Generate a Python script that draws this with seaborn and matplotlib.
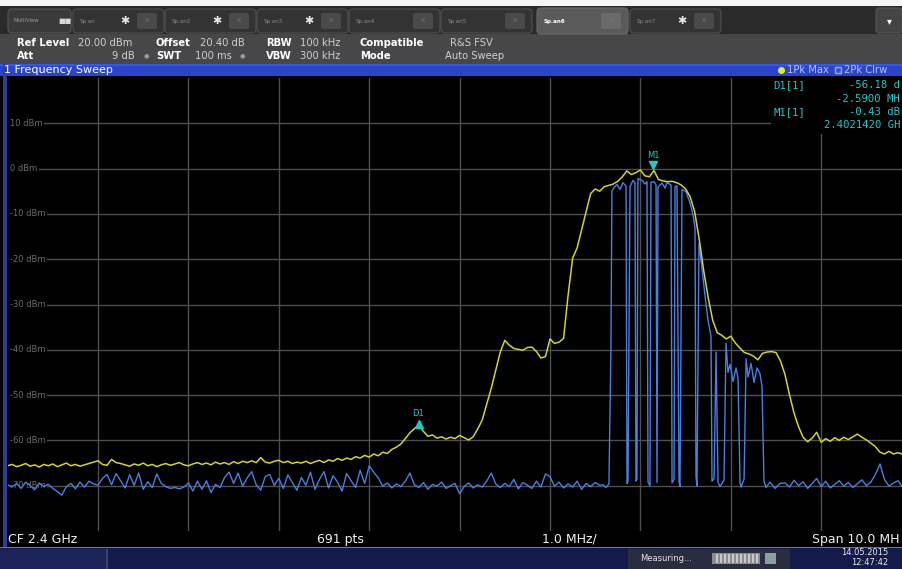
import numpy as np
import pandas as pd
import matplotlib
matplotlib.use("Agg")
import matplotlib.pyplot as plt
from matplotlib.patches import Rectangle, FancyBboxPatch
from matplotlib.lines import Line2D
from matplotlib.transforms import Affine2D
import seaborn as sns

# ---------------- data ----------------
center_label = "CF 2.4 GHz"
span_label = "Span 10.0 MH"       # cut at the right edge of the screenshot
points_label = "691 pts"
div_label = "1.0 MHz/"
grid_step_mhz = 0.05          # sampling of the values below (offset from CF, MHz)

# Trace 1: 1Pk Max (yellow), from -5 MHz to +5 MHz
trace1_max_dbm = [
    -65.6, -65.3, -65.8, -65.5, -65.1, -65.7, -65.4, -65.9, -65.3, -65.6,
    -65.2, -65.8, -65.4, -65.0, -65.6, -65.3, -65.7, -65.4, -65.1, -64.8,
    -64.5, -65.3, -65.5, -64.2, -64.9, -65.1, -65.4, -65.7, -65.2, -65.5,
    -65.0, -65.6, -65.3, -65.8, -65.4, -65.1, -65.5, -65.2, -64.9, -65.4,
    -65.6, -65.2, -64.9, -65.3, -65.0, -65.4, -64.8, -65.2, -64.9, -65.3,
    -64.7, -65.1, -64.6, -64.9, -64.5, -64.9, -63.8, -64.8, -65.0, -64.6,
    -64.4, -64.9, -64.6, -65.1, -64.8,
    -65.0, -64.6, -65.1, -64.7, -64.4, -64.9, -64.3, -64.6, -64.0, -64.4,
    -63.9, -64.2, -63.6, -63.9, -63.3, -63.7, -63.0, -63.4, -62.6, -62.9,
    -62.0, -61.5, -60.8, -59.6, -58.3, -57.4, -56.6, -58.0, -59.1, -58.8,
    -59.5, -59.2, -59.7, -59.3, -59.6, -58.9, -59.4, -59.9, -59.2, -57.5,
    -55.5, -52.0, -48.5, -44.5, -40.5, -37.9, -39.0, -39.7, -39.9, -40.1,
    -39.5, -39.4, -40.4, -41.8, -41.5, -37.6, -38.6, -38.3, -37.5, -28.0,
    -19.8, -17.5, -13.5, -9.5, -5.5, -4.5, -5.0, -4.0, -3.7, -3.4,
    -2.8, -1.8, -0.5, -1.3, -0.9, -0.3, -1.6, -1.8, -0.43, -2.4,
    -2.7, -2.9, -2.8, -3.1, -3.6, -4.5, -6.2, -9.5, -15.5, -22.5,
    -28.5, -33.5, -36.2, -36.8, -37.6, -37.0, -38.5, -39.6, -40.6, -40.9,
    -41.4, -42.2, -40.8, -40.5, -40.4, -40.6, -42.5, -45.5, -50.0, -54.0,
    -57.0, -59.3, -60.3, -59.5, -58.2, -60.4, -59.6, -60.2, -59.4, -60.0,
    -59.3, -59.8, -59.2, -58.6, -59.3, -59.9, -60.6, -61.4, -62.6, -63.0,
    -62.4, -63.0, -62.7, -63.1, -63.4, -63.0,
]

# Trace 2: 2Pk Clrw (blue) - noise floor left of the bursts, from -5 MHz
trace2_left_dbm = [
    -69.8, -70.3, -69.5, -70.6, -69.2, -70.0, -70.9, -69.4, -70.2, -69.7,
    -70.6, -71.3, -72.1, -70.2, -69.5, -70.7, -69.2, -70.3, -69.0, -69.6,
    -69.9, -68.4, -67.5, -69.8, -67.3, -68.9, -70.5, -67.6, -69.9, -67.2,
    -70.8, -69.1, -70.4, -67.4, -69.5, -70.2, -70.6, -70.4, -70.7, -70.3,
    -69.4, -71.2, -69.0, -70.8, -68.9, -71.5, -69.7, -70.4, -68.2, -67.0,
    -69.5, -67.2, -70.1, -68.3, -66.9, -69.8, -71.0, -68.0, -67.5, -69.9,
    -68.4, -70.6, -67.6, -69.3, -71.0, -68.2, -69.9, -67.0, -70.8, -68.6,
    -66.9, -70.5, -67.8, -69.2, -71.2, -67.3, -68.9, -70.4, -66.6, -69.5,
    -65.6, -67.0, -68.3, -70.1, -69.4, -70.5, -69.6, -70.2, -69.0, -67.2,
    -69.8, -70.4, -69.3, -70.8, -69.7, -70.1, -69.2, -70.6, -70.0, -69.5,
    -71.8, -70.2, -69.4, -70.5, -69.8, -70.3, -69.0, -67.2, -69.6, -70.4,
    -69.5, -70.2, -68.6, -70.7, -69.3, -69.9, -70.6, -69.0, -70.3, -67.4,
    -68.0, -70.1, -69.2, -70.5, -69.6, -70.3, -69.0, -70.8, -69.5, -70.2,
    -69.3, -69.9,
]

# Trace 2: burst region (explicit frequency offsets, MHz)
trace2_burst_mhz = [
    1.586, 1.619, 1.652, 1.674, 1.685, 1.708, 1.741, 1.774, 1.807, 1.841,
    1.852, 1.863, 1.885, 1.918, 1.940, 1.951, 1.962, 1.973, 2.018, 2.051,
    2.073, 2.084, 2.106, 2.117, 2.151, 2.173, 2.184, 2.195, 2.239, 2.273,
    2.295, 2.339, 2.350, 2.372, 2.383, 2.405, 2.427, 2.438, 2.460, 2.505,
    2.549, 2.582, 2.604, 2.615, 2.626, 2.648, 2.681, 2.714, 2.748, 2.781,
    2.792, 2.815, 2.837, 2.859, 2.881, 2.925, 2.947, 2.969, 2.992, 3.025,
    3.058, 3.080, 3.102, 3.113, 3.147, 3.169, 3.191, 3.224, 3.257, 3.290,
    3.323, 3.345, 3.367, 3.389, 3.434, 3.489, 3.545,
]
trace2_burst_dbm = [
    -69.8, -70.4, -69.6, -40.0, -5.0, -4.2, -3.5, -4.6, -3.1, -3.9,
    -69.5, -69.0, -4.0, -2.6, -3.1, -69.0, -68.5, -2.2, -2.6, -3.4,
    -2.9, -69.2, -70.0, -3.0, -2.9, -3.6, -69.3, -4.1, -3.2, -4.3,
    -3.1, -3.6, -69.4, -68.6, -4.0, -3.8, -69.1, -70.2, -4.6, -5.1,
    -7.6, -10.2, -13.0, -68.0, -70.1, -16.5, -22.0, -28.0, -33.5, -37.0,
    -69.0, -68.4, -40.5, -69.3, -70.2, -68.7, -38.5, -45.0, -43.2, -47.0,
    -44.0, -46.2, -69.2, -70.3, -68.5, -42.0, -46.0, -43.0, -47.2, -44.0,
    -45.3, -48.0, -69.0, -70.4, -69.2, -70.6, -69.5,
]

# Trace 2: noise floor right of the bursts, from +3.6 MHz
trace2_right_dbm = [
    -69.4, -70.3, -68.8, -70.0, -69.1, -70.6, -69.5, -68.4, -70.2, -69.0,
    -70.5, -69.7, -68.9, -70.1, -69.3, -70.4, -69.6, -68.7, -70.0, -69.2,
    -67.5, -65.2, -68.6, -70.1, -69.4, -68.9, -70.3, -69.6, -70.0,
]

y_ticks = [10, 0, -10, -20, -30, -40, -50, -60, -70]
y_tick_labels = ["10 dBm", "0 dBm", "-10 dBm", "-20 dBm", "-30 dBm",
                 "-40 dBm", "-50 dBm", "-60 dBm", "-70 dBm"]
x_ticks = [-4, -3, -2, -1, 0, 1, 2, 3, 4]

m1_mhz, m1_dbm = 2.142, -0.43
d1_mhz, d1_dbm = -0.448, -56.61
# marker table as visible (cut at the right edge of the screenshot)
marker_info = [("D1[1]", "-56.18 d"), ("", "-2.5900 MH"),
               ("M1[1]", "-0.43 dB"), ("", "2.4021420 GH")]

tab_names = ["Sp.an", "Sp.an2", "Sp.an3", "Sp.an4", "Sp.an5", "Sp.an6", "Sp.an7"]

# ---------------- build data frames ----------------
f1 = -5.0 + grid_step_mhz * np.arange(len(trace1_max_dbm))
df1 = pd.DataFrame({"freq": f1, "level": trace1_max_dbm})
fl = -5.0 + grid_step_mhz * np.arange(len(trace2_left_dbm))
fr = 3.6 + grid_step_mhz * np.arange(len(trace2_right_dbm))
df2 = pd.DataFrame({
    "freq": np.concatenate([fl, trace2_burst_mhz, fr]),
    "level": np.concatenate([trace2_left_dbm, trace2_burst_dbm, trace2_right_dbm]),
})

# ---------------- figure ----------------
sns.set_theme(style="dark")
plt.rcParams["font.family"] = ["DejaVu Sans"]

W, H = 902, 569
fig = plt.figure(figsize=(W / 100, H / 100), dpi=100)
fig.patch.set_facecolor("black")
px = Affine2D().scale(1 / W, -1 / H).translate(0, 1) + fig.transFigure


def rect(x0, y0, x1, y1, color, z=-5, **kw):
    fig.add_artist(Rectangle((x0, y0), x1 - x0, y1 - y0, transform=px,
                             facecolor=color, edgecolor=kw.pop("ec", "none"),
                             zorder=z, **kw))


def rbox(x0, y0, x1, y1, color, ec, r=4, z=-4, lw=0.8):
    fig.add_artist(FancyBboxPatch((x0, y0), x1 - x0, y1 - y0,
                                  boxstyle=f"round,pad=0,rounding_size={r}",
                                  transform=px, facecolor=color, edgecolor=ec,
                                  linewidth=lw, zorder=z))


def txt(x, y, s, **kw):
    kw.setdefault("va", "center")
    kw.setdefault("zorder", 5)
    fig.text(x, y, s, transform=px, **kw)


# top white strip + tab bar
rect(0, 0, W, 6, "#f4f4f4")
rect(0, 6, W, 34, "#2a2a2a")
rbox(8, 9, 71, 33, "#3a3a3a", "#555555")
txt(13, 21, "MultiView", color="#9a9a9a", fontsize=3.8)
txt(58, 21, "■■", color="#d8d8d8", fontsize=5)
tab_x = [73, 165, 257, 349, 441, 537, 630]
for i, (tx, name) in enumerate(zip(tab_x, tab_names)):
    active = name == "Sp.an6"
    rbox(tx, 8 if active else 9, tx + 91, 34 if active else 33,
         "#5a5a5a" if active else "#333333", "#6a6a6a" if active else "#505050")
    txt(tx + 7, 21, name, color="#ffffff" if active else "#8a8a8a",
        fontsize=4.0, fontweight="bold" if active else "normal")
    if name not in ("Sp.an4", "Sp.an5", "Sp.an6"):
        txt(tx + 52, 21, "✱", color="#e8e8e8", fontsize=8, ha="center")
    rbox(tx + 64, 13, tx + 84, 29, "#4a4a4a" if not active else "#6a6a6a", "none", r=2)
    txt(tx + 74, 21, "X", color="#7a7a7a", fontsize=4.5, ha="center")
rbox(876, 8, 902, 33, "#444444", "#555555", r=3)
txt(889, 21, "▾", color="#ffffff", fontsize=7, ha="center")

# header (settings)
rect(0, 34, W, 64, "#474747")
lab = dict(color="#ffffff", fontsize=7.2, fontweight="bold")
val = dict(color="#cfcfcf", fontsize=7.2)
txt(17, 43, "Ref Level", **lab)
txt(78, 43, "20.00 dBm", **val)
txt(156, 43, "Offset", **lab)
txt(200, 43, "20.40 dB", **val)
txt(266, 43, "RBW", **lab)
txt(300, 43, "100 kHz", **val)
txt(360, 43, "Compatible", **lab)
txt(450, 43, "R&S FSV", **val)
txt(17, 56, "Att", **lab)
txt(135, 56, "9 dB", ha="right", **val)
txt(146, 56, "●", color="#9a9a9a", fontsize=4.5, ha="center")
txt(156, 56, "SWT", **lab)
txt(232, 56, "100 ms", ha="right", **val)
txt(242, 56, "●", color="#9a9a9a", fontsize=4.5, ha="center")
txt(266, 56, "VBW", **lab)
txt(300, 56, "300 kHz", **val)
txt(360, 56, "Mode", **lab)
txt(445, 56, "Auto Sweep", **val)

# blue title bar
rect(0, 64, W, 76, "#2a45c8")
rect(0, 64, W, 66, "#3b58d8")
txt(4, 70, "1 Frequency Sweep", color="#ffffff", fontsize=8)
fig.add_artist(Line2D([781], [70], transform=px, marker="o", ms=4,
                      color="#e8e838", mec="#e8e838", zorder=5))
txt(787, 70, "1Pk Max", color="#b8c4f0", fontsize=7.2)
fig.add_artist(Line2D([838], [70], transform=px, marker="s", ms=4.5,
                      color="#3a56c0", mec="#9aa6cc", mew=1, zorder=5))
txt(844, 70, "2Pk Clrw", color="#b8c4f0", fontsize=7.2)

# plot frame background and left border
rect(0, 76, W, 547, "#000000")
rect(3, 64, 7, 547, "#2c3f9a", z=-3)

# bottom info bar + status bar
rect(0, 547, W, 569, "#141a4c")
rect(0, 547, W, 548.5, "#6a76a8", z=-4)
rect(0, 549, 106, 569, "#1c2358", z=-4)
rect(106, 549, 108, 569, "#3a4270", z=-4)
rect(628, 549, 790, 569, "#2a2d40", z=-4)
rect(712, 553, 760, 564, "#8c8c8c", z=-3)
for xx in range(716, 758, 4):
    rect(xx, 554, xx + 2, 563, "#c8c8c8", z=-2)
rect(765, 553, 776, 564, "#8aa0a0", z=-3)
narrow_fam = ["Liberation Sans Narrow", "DejaVu Sans"]
txt(640, 558.5, "Measuring...", color="#e6e6e6", fontsize=6, family=narrow_fam)
txt(888, 553, "14.05.2015", color="#e6e6e6", fontsize=6, ha="right", family=narrow_fam)
txt(888, 563, "12:47:42", color="#e6e6e6", fontsize=6, ha="right", family=narrow_fam)

narrow = dict(color="#f0f0f0", fontsize=9, family=narrow_fam)
txt(8, 539.5, center_label, **narrow)
txt(340, 539.5, points_label, ha="center", **narrow)
txt(569, 539.5, div_label, ha="center", **narrow)
txt(900, 539.5, span_label, ha="right", **narrow)

# ---------------- main axes ----------------
ax = fig.add_axes([7.6 / W, 1 - 531 / H, 904 / W, 453 / H])
ax.set_facecolor("black")
ax.set_xlim(-5, 5)
ax.set_ylim(-80, 20)
ax.set_xticks(x_ticks)
ax.set_yticks(y_ticks)
ax.tick_params(length=0, labelbottom=False, labelleft=False)
ax.set_axisbelow(True)
ax.grid(True, color="#4e4e4e", linewidth=1.0)
for s in ax.spines.values():
    s.set_visible(False)

for yv, lbl in zip(y_ticks, y_tick_labels):
    ax.text(-4.972, yv, lbl, color="#6c6c6c", fontsize=6, va="center",
            ha="left", zorder=1.5,
            bbox=dict(facecolor="black", edgecolor="none", pad=1.2))

sns.lineplot(data=df2, x="freq", y="level", ax=ax, color="#4a7ee0",
             linewidth=1.0, estimator=None, sort=False, zorder=2)
sns.lineplot(data=df1, x="freq", y="level", ax=ax, color="#d2d23a",
             linewidth=1.1, estimator=None, sort=False, zorder=3)
ax.set_xlabel("")
ax.set_ylabel("")

cyan = "#27c6c6"
ax.plot([m1_mhz], [m1_dbm + 1.3], marker="v", ms=5.5, color=cyan, zorder=4)
ax.text(m1_mhz, m1_dbm + 3.3, "M1", color=cyan, fontsize=6, ha="center",
        va="center", zorder=4)
ax.plot([d1_mhz], [d1_dbm + 0.2], marker="^", ms=5.5, color=cyan, zorder=4)
ax.text(d1_mhz - 0.01, d1_dbm + 2.6, "D1", color=cyan, fontsize=6, ha="center",
        va="center", zorder=4)

# marker info box (top right)
rect(771, 77, W, 134, "#000000", z=1)
mono = dict(color=cyan, fontsize=7.6, family=["DejaVu Sans Mono"], zorder=6)
for i, (name, value) in enumerate(marker_info):
    y = 85 + 13.5 * i
    if name:
        txt(773, y, name, **mono)
    txt(900, y, value, ha="right", **mono)

fig.savefig("out.png", dpi=100, facecolor="black")
